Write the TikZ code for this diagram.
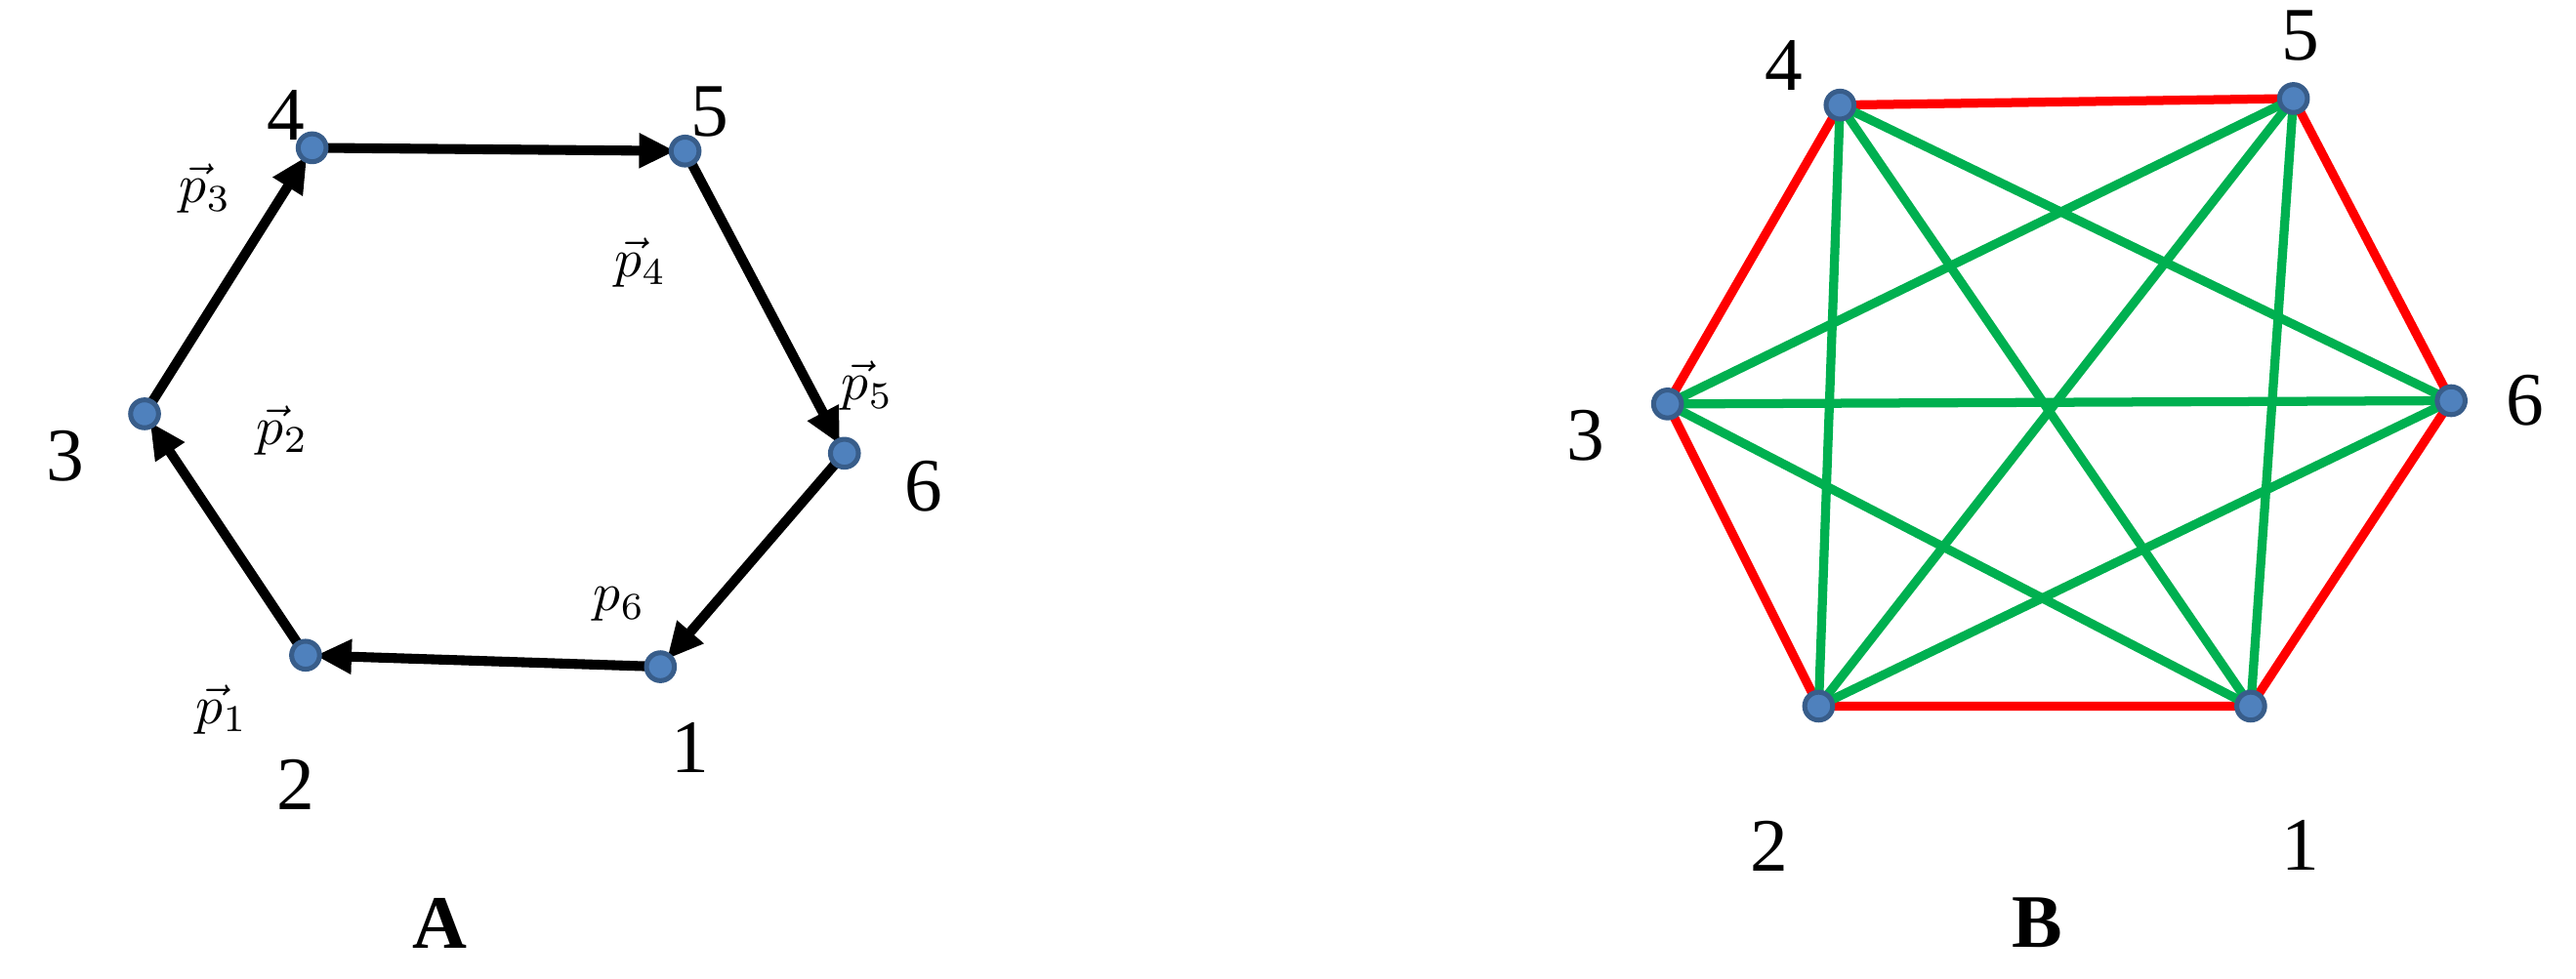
\documentclass[tikz,border=0pt]{standalone}
\usepackage{fontspec}
\setmainfont{Liberation Serif}
\usetikzlibrary{arrows.meta}
\definecolor{dotblue}{RGB}{79,129,189}
\definecolor{dotedge}{RGB}{56,93,138}
\definecolor{gr}{RGB}{0,176,80}
\begin{document}
\begin{tikzpicture}[x=1pt,y=-1pt,
  dot/.style={circle,fill=dotblue,draw=dotedge,line width=3pt,minimum size=17pt,inner sep=0pt},
  arr/.style={line width=6pt,-{Triangle[length=22pt,width=20pt]},shorten >=6pt,shorten <=2pt},
  red/.style={draw=red,line width=5.5pt},
  grn/.style={draw=gr,line width=5.5pt},
  lab/.style={font=\fontsize{46}{50}\selectfont},
  plab/.style={inner sep=0pt,scale=3.3,transform shape}]
\useasboundingbox (0,0) rectangle (1568,596);
% Panel A
\coordinate (a1) at (402,406);
\coordinate (a2) at (186,399);
\coordinate (a3) at (88,252);
\coordinate (a4) at (190,90);
\coordinate (a5) at (417,92);
\coordinate (a6) at (514,276);
\draw[arr] (a4) -- (a5);
\draw[arr] (a5) -- (a6);
\draw[arr] (a6) -- (a1);
\draw[arr] (a1) -- (a2);
\draw[arr] (a2) -- (a3);
\draw[arr] (a3) -- (a4);
\foreach \n in {1,...,6} \node[dot] (A\n) at (a\n) {};
\node[lab] (l4) at (174,70) {4};
\node[lab] (l5) at (432,68) {5};
\node[lab] (l3) at (40,278) {3};
\node[lab] (l6) at (562,296) {6};
\node[lab] (l1) at (420,455) {1};
\node[lab] (l2) at (180,478) {2};
\node[plab] (p3) at (125,115) {$\vec{p}_3$};
\node[plab] (p4) at (390,160) {$\vec{p}_4$};
\node[plab] (p5) at (528,235) {$\vec{p}_5$};
\node[plab] (p2) at (172,262) {$\vec{p}_2$};
\node[plab] (p6) at (377,368) {$p_6$};
\node[plab] (p1) at (135,432) {$\vec{p}_1$};
\node[lab,font=\fontsize{46}{50}\selectfont\bfseries] (A) at (268,562) {A};
% Panel B
\coordinate (b1) at (1370,430);
\coordinate (b2) at (1107,430);
\coordinate (b3) at (1015,246);
\coordinate (b4) at (1120,64);
\coordinate (b5) at (1396,60);
\coordinate (b6) at (1492,244);
\draw[red] (b1) -- (b2) -- (b3) -- (b4) -- (b5) -- (b6) -- cycle;
\draw[grn] (b1) -- (b3); \draw[grn] (b1) -- (b4); \draw[grn] (b1) -- (b5);
\draw[grn] (b2) -- (b4); \draw[grn] (b2) -- (b5); \draw[grn] (b2) -- (b6);
\draw[grn] (b3) -- (b5); \draw[grn] (b3) -- (b6); \draw[grn] (b4) -- (b6);
\foreach \n in {1,...,6} \node[dot] (B\n) at (b\n) {};
\node[lab] (m4) at (1086,40) {4};
\node[lab] (m5) at (1400,22) {5};
\node[lab] (m3) at (965,265) {3};
\node[lab] (m6) at (1537,244) {6};
\node[lab] (m2) at (1077,515) {2};
\node[lab] (m1) at (1400,515) {1};
\node[lab,font=\fontsize{46}{50}\selectfont\bfseries] (B) at (1240,562) {B};
\end{tikzpicture}
\end{document}
